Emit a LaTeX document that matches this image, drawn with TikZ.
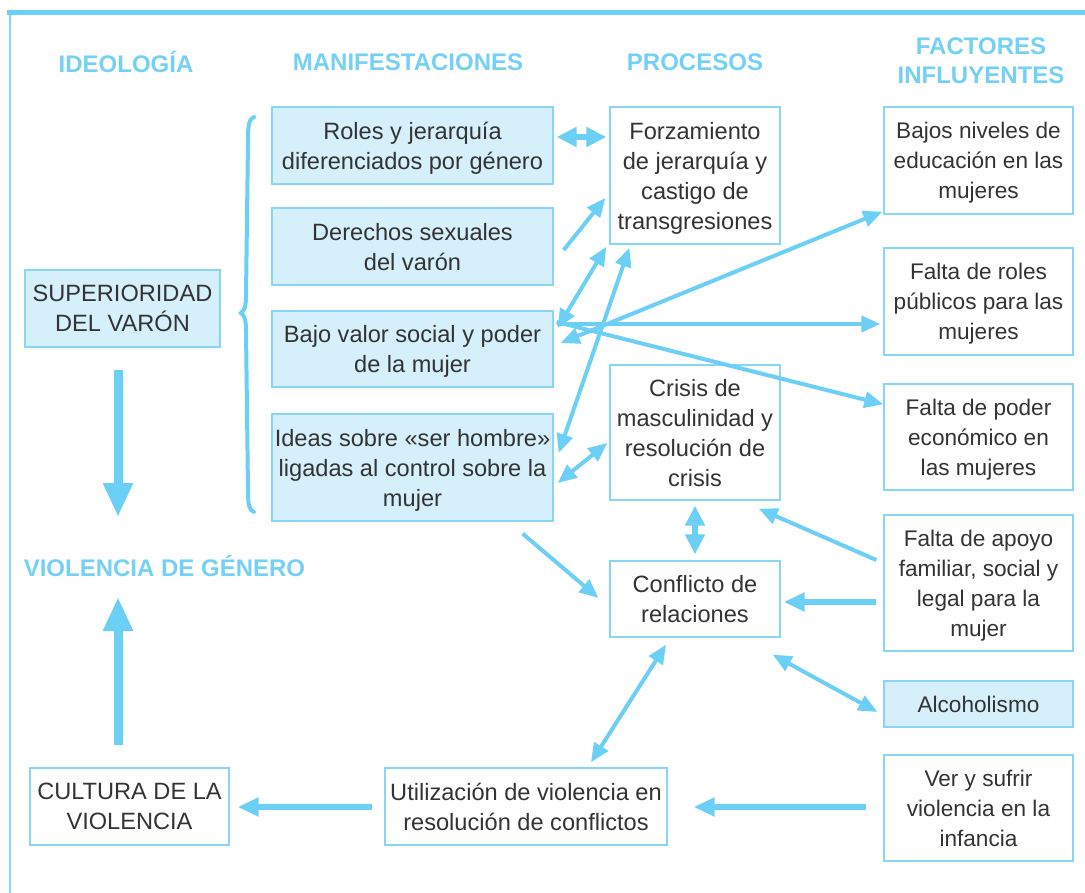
\documentclass[tikz,border=0pt]{standalone}
\usepackage{fontspec}
\setmainfont{Liberation Sans}
\usetikzlibrary{arrows.meta}
\definecolor{arr}{HTML}{6CCFF6}
\definecolor{boxline}{HTML}{88D6F5}
\definecolor{boxfill}{HTML}{D5EFFB}
\definecolor{hd}{HTML}{74D0F4}
\definecolor{txt}{HTML}{333333}
\newcommand{\bodyfont}{\fontsize{23.6}{30}\selectfont}
\newcommand{\facfont}{\fontsize{22.6}{30}\selectfont}
\newcommand{\hdfont}{\fontsize{24}{29}\selectfont\bfseries}
\tikzset{
  box/.style={draw=boxline, line width=1.3pt, inner sep=0pt, align=center, font=\bodyfont, text=txt, text depth=0pt},
  fbox/.style={box, fill=boxfill},
  fac/.style={box, font=\facfont},
  hdr/.style={inner sep=0pt, align=center, font=\hdfont, text=hd},
  thin/.style={draw=arr, line width=4pt, -{Triangle[length=19pt,width=16pt]}},
  thinb/.style={draw=arr, line width=4pt, {Triangle[length=19pt,width=16pt]}-{Triangle[length=19pt,width=16pt]}},
  mid/.style={draw=arr, line width=5.5pt, -{Triangle[length=21pt,width=18pt]}},
  midb/.style={draw=arr, line width=6pt, {Triangle[length=20pt,width=19pt]}-{Triangle[length=20pt,width=19pt]}},
  big/.style={draw=arr, line width=9pt, -{Triangle[length=34pt,width=28pt]}},
}
\begin{document}
\begin{tikzpicture}[x=1pt,y=-1pt]
\useasboundingbox (0,0) rectangle (1085,893);
% frame
\draw[arr, line width=5pt] (7,13) -- (1085,13);
\draw[boxline, line width=1.5pt] (10,15) -- (10,893);
% headers
\node[hdr] (h1) at (126,62) {IDEOLOGÍA};
\node[hdr] (h2) at (408,62) {MANIFESTACIONES};
\node[hdr] (h3) at (695,62) {PROCESOS};
\node[hdr] (h4) at (981,61) {FACTORES\\INFLUYENTES};
\node[hdr] (VG) at (164.5,566) {VIOLENCIA DE GÉNERO};
% ideology
\node[fbox, minimum width=195pt, minimum height=77pt] (SUP) at (122.5,308.5) {SUPERIORIDAD\\DEL VARÓN};
\node[box, minimum width=199pt, minimum height=77pt] (C) at (129.5,806.5) {CULTURA DE LA\\VIOLENCIA};
% manifestaciones
\node[fbox, minimum width=281pt, minimum height=77pt] (M1) at (412.5,145.5) {Roles y jerarquía\\diferenciados por género};
\node[fbox, minimum width=281pt, minimum height=77pt] (M2) at (412.5,246.5) {Derechos sexuales\\del varón};
\node[fbox, minimum width=281pt, minimum height=76pt] (M3) at (412.5,349) {Bajo valor social y poder\\de la mujer};
\node[fbox, minimum width=281pt, minimum height=107pt] (M4) at (412.5,467.5) {Ideas sobre «ser hombre»\\ligadas al control sobre la\\mujer};
% procesos
\node[box, minimum width=170pt, minimum height=137pt] (P1) at (695,175.5) {Forzamiento\\de jerarquía y\\castigo de\\transgresiones};
\node[box, minimum width=170pt, minimum height=135pt] (P2) at (695,432.5) {Crisis de\\masculinidad y\\resolución de\\crisis};
\node[box, minimum width=170pt, minimum height=76pt] (P3) at (695,599) {Conflicto de\\relaciones};
\node[box, minimum width=282pt, minimum height=77pt] (U) at (526,806.5) {Utilización de violencia en\\resolución de conflictos};
% factores
\node[fac, minimum width=189pt, minimum height=107pt] (F1) at (978.5,160.5) {Bajos niveles de\\educación en las\\mujeres};
\node[fac, minimum width=189pt, minimum height=107pt] (F2) at (978.5,301.5) {Falta de roles\\públicos para las\\mujeres};
\node[fac, minimum width=189pt, minimum height=106pt] (F3) at (978.5,437) {Falta de poder\\económico en\\las mujeres};
\node[fac, minimum width=189pt, minimum height=136pt] (F4) at (978.5,583) {Falta de apoyo\\familiar, social y\\legal para la\\mujer};
\node[fac, fill=boxfill, minimum width=189pt, minimum height=46pt] (F5) at (978.5,704) {Alcoholismo};
\node[fac, minimum width=189pt, minimum height=106pt] (F6) at (978.5,808) {Ver y sufrir\\violencia en la\\infancia};
% brace
\draw[arr, line width=4pt, line cap=round] (254,117) .. controls (249,119) and (248,125) .. (248,140) -- (246,296) .. controls (246,307) and (244,311) .. (241,313) .. controls (244,315) and (246,319) .. (246,330) -- (248,490) .. controls (248,505) and (249,510) .. (254,512);
% big arrows
\draw[big] ([shift={(-4.5,22)}]SUP.south) -- ([shift={(-46.5,-49)}]VG.center);
\draw[big] ([shift={(-11.5,-22)}]C.north) -- ([shift={(-46.5,31)}]VG.center);
% connectors
\draw[midb] ([shift={(3,-8.5)}]M1.east) -- ([shift={(-3,-38.5)}]P1.west);
\draw[thin] ([shift={(10,3.5)}]M2.east) -- ([shift={(-4,22.5)}]P1.west);
\draw[thinb] ([shift={(4,-21)}]M3.east) -- ([shift={(-3,2)}]P1.south west);
\draw[thinb] ([shift={(5,-14.5)}]M4.east) -- ([shift={(20,3)}]P1.south west);
\draw[thinb] ([shift={(4,15.5)}]M4.east) -- ([shift={(-2,10.5)}]P2.west);
\draw[thinb] ([shift={(7,-6)}]M3.east) -- ([shift={(-1,-3)}]F1.south west);
\draw[thin] ([shift={(3,-25)}]M3.east) -- ([shift={(-3,22.5)}]F2.west);
\draw[thin] ([shift={(3,-27)}]M3.east) -- ([shift={(0,21)}]F3.north west);
\draw[thin] ([shift={(-7,-23)}]F4.west) -- ([shift={(-22,8)}]P2.south east);
\draw[mid] ([shift={(-7,19)}]F4.west) -- ([shift={(3,3)}]P3.east);
\draw[midb] ([shift={(0,5)}]P2.south) -- ([shift={(0,-6)}]P3.north);
\draw[thin] ([shift={(-31,12)}]M4.south east) -- ([shift={(-11,-1)}]P3.west);
\draw[thinb] ([shift={(-8,17)}]P3.south east) -- ([shift={(-6,8)}]F5.west);
\draw[thinb] ([shift={(-29,7)}]P3.south) -- ([shift={(65,-5)}]U.north);
\draw[mid] ([shift={(-17,-1)}]F6.west) -- ([shift={(26,0.5)}]U.east);
\draw[mid] ([shift={(-12,0.5)}]U.west) -- ([shift={(8,0.5)}]C.east);
\end{tikzpicture}
\end{document}
